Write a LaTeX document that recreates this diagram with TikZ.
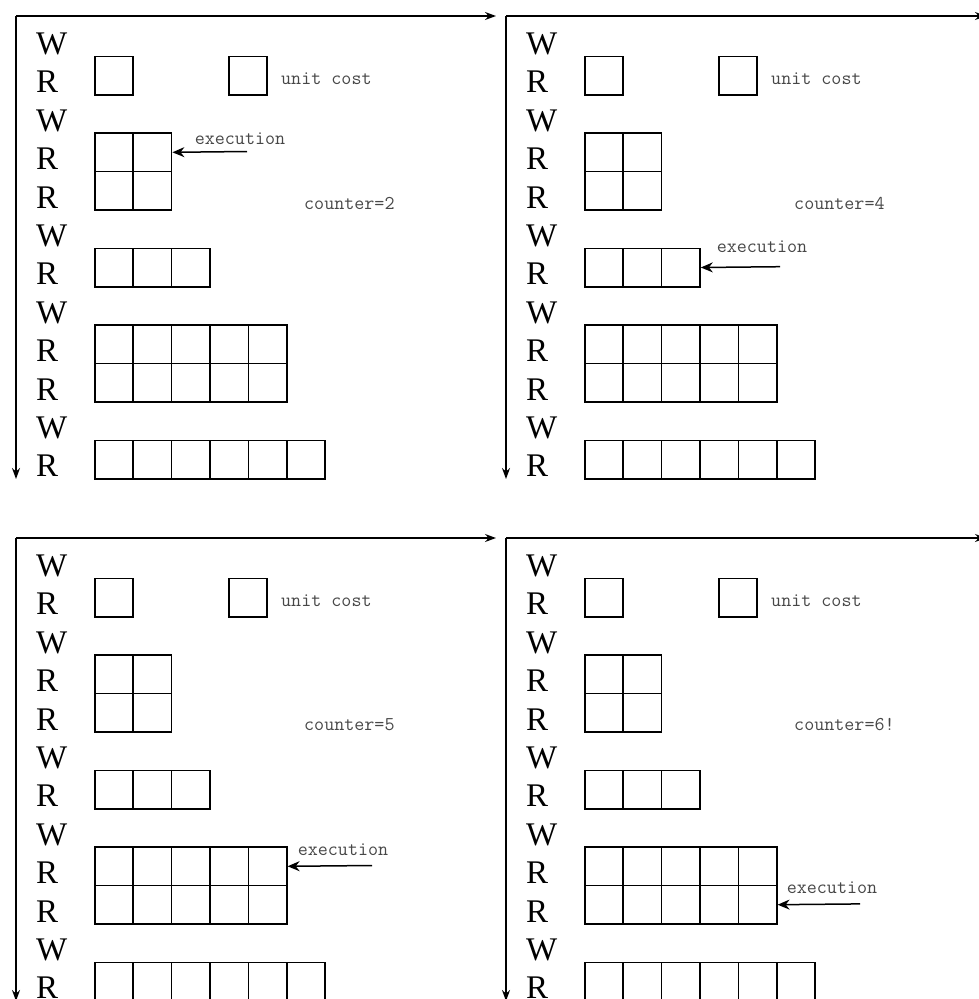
\documentclass[tikz,border=0pt]{standalone}
\usepackage{fontspec}
\setmainfont{Liberation Serif}
\newfontfamily\monof{Latin Modern Mono}
\usetikzlibrary{arrows.meta}
\tikzset{
  axis/.style={line width=1.3pt, -{Stealth[length=11pt,width=8pt]}},
  letter/.style={anchor=base west, inner sep=0pt, font=\fontsize{33}{33}\selectfont},
  cell/.style={draw, line width=1.6pt, minimum size=38.4pt, inner sep=0pt, anchor=north west},
  lbl/.style={font=\monof\fontsize{19.5}{19.5}\selectfont, text=black!72, inner sep=0pt, anchor=west},
  exec/.style={line width=1.5pt, -{Stealth[length=12pt,width=10pt]}},
}
\newcommand\rwpanel[4]{%
  \begin{scope}[shift={(#2,#3)}]
    \coordinate (#1o) at (16,16);
    \coordinate (#1h) at (496,16);
    \coordinate (#1v) at (16,479);
    \draw[axis] (#1o) -- (#1h);
    \draw[axis] (#1o) -- (#1v);
    \foreach \t [count=\n] in {W,R,W,R,R,W,R,W,R,R,W,R}
      \node[letter] (#1l\n) at (36,{54.5+(\n-1)*38.4}) {\t};
    % single box
    \node[cell] (#1a) at (94,55.5) {};
    \node[cell] (#1u) at (228,55.5) {};
    \node[lbl] (#1ut) at (281,79) {unit cost};
    % 2x2
    \foreach \i in {0,1}{
      \node[cell] (#1b0\i) at ({94+38.4*\i},132.3) {};
      \node[cell] (#1b1\i) at ({94+38.4*\i},170.7) {};
    }
    \node[lbl] (#1ct) at (304,203) {#4};
    % 1x3
    \foreach \i in {0,1,2}
      \node[cell] (#1c\i) at ({94+38.4*\i},247.5) {};
    % 2x5
    \foreach \i in {0,...,4}{
      \node[cell] (#1d0\i) at ({94+38.4*\i},324.3) {};
      \node[cell] (#1d1\i) at ({94+38.4*\i},362.7) {};
    }
    % 1x6
    \foreach \i in {0,...,5}
      \node[cell] (#1e\i) at ({94+38.4*\i},439.5) {};
  \end{scope}%
}
\begin{document}
\begin{tikzpicture}[x=1pt,y=-1pt]
  \useasboundingbox (0,0) rectangle (979,999);
  \rwpanel{p}{0}{0}{counter=2}
  \rwpanel{q}{490}{0}{counter=4}
  \rwpanel{r}{0}{522}{counter=5}
  \rwpanel{s}{490}{522}{counter=6!}
  % execution arrows
  \coordinate (pS) at (247,151.5);
  \draw[exec] (pS) -- (pb01.east);
  \node[lbl, anchor=center] (pX) at (240,139) {execution};
  \coordinate (qS) at (780,266.7);
  \draw[exec] (qS) -- (qc2.east);
  \node[lbl, anchor=center] (qX) at (762,247) {execution};
  \coordinate (rS) at (372,865.5);
  \draw[exec] (rS) -- (rd04.east);
  \node[lbl, anchor=center] (rX) at (343,850) {execution};
  \coordinate (sS) at (860,903.9);
  \draw[exec] (sS) -- (sd14.east);
  \node[lbl, anchor=center] (sX) at (832,888) {execution};
\end{tikzpicture}
\end{document}
